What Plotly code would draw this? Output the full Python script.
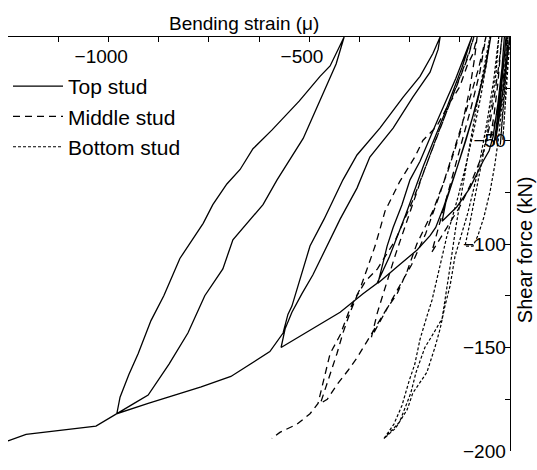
import plotly.graph_objects as go

# Bending strain (micro-strain) and shear force (kN) histories for each stud
top_strain = [0, -8, -16, -26, -36,
              -28, -20, -14, -10,
              -16, -24, -32, -40,
              -32, -24, -18, -14,
              -20, -30, -42, -52, -67, -100, -132, -169,
              -160, -140, -110, -80, -60, -48,
              -65, -95, -130, -165, -185, -199, -232, -281, -329,
              -316, -306, -291, -269, -249, -224, -180, -135, -95,
              -120, -165, -215, -260, -300, -331, -366, -423, -500, -570,
              -560, -543, -518, -491, -423, -381, -349, -291, -242, -199, -179, -174,
              -192, -224, -266, -324, -381, -416, -463, -498, -543, -553, -565, -598,
              -695, -769, -901, -979,
              -971, -949, -926, -894, -862, -822, -764, -740, -705, -672, -640, -593, -525, -473, -448, -413,
              -433, -473, -515, -580, -615, -690, -715, -760, -802, -849, -901, -936, -979,
              -1031, -1205, -1248, -1290]
top_force = [0, -12, -25, -38, -50,
             -38, -22, -8, 0,
             -14, -28, -40, -52,
             -40, -25, -10, 0,
             -15, -32, -48, -55, -60, -73, -82, -89,
             -80, -68, -50, -30, -14, 0,
             -18, -40, -62, -82, -92, -96, -103, -111, -119,
             -109, -101, -92, -81, -69, -60, -40, -20, 0,
             -15, -38, -62, -86, -106, -119, -124, -133, -142, -150,
             -141, -133, -124, -115, -88, -73, -58, -44, -29, -17, -6, 0,
             -8, -19, -29, -44, -57, -69, -88, -101, -130, -134, -143, -152,
             -164, -169, -177, -182,
             -174, -163, -153, -137, -125, -107, -90, -81, -71, -64, -54, -45, -31, -19, -14, 0,
             -13, -31, -49, -69, -81, -98, -112, -125, -143, -158, -173, -177, -182,
             -188, -192, -195, -196]

mid_strain = [0, -10, -22, -36, -50,
              -40, -30, -24, -20,
              -28, -40, -52, -65, -80, -100, -125, -150, -175, -195,
              -178, -155, -125, -98, -75, -60,
              -78, -105, -140, -175, -210, -245, -280, -315, -345,
              -330, -310, -285, -255, -220, -180, -140, -105, -90,
              -110, -150, -195, -240, -285, -330, -360, -381, -398, -416, -431, -448, -465, -472,
              -455, -431, -403, -381, -356, -331, -306, -281, -256, -232, -207, -192, -155, -122, -100, -88, -82,
              -92, -107, -125, -154, -182, -217, -237, -275, -311, -324, -336, -354, -374, -398, -423, -448,
              -468, -478, -498, -530, -573, -593]
mid_force = [0, -12, -26, -40, -50,
             -38, -22, -8, 0,
             -14, -30, -44, -55, -62, -72, -82, -90, -98, -104,
             -92, -76, -55, -35, -17, 0,
             -15, -33, -55, -76, -95, -110, -122, -134, -145,
             -133, -120, -105, -88, -68, -47, -27, -10, 0,
             -12, -32, -55, -78, -98, -112, -118, -125, -133, -143, -153, -163, -172, -177,
             -175, -168, -161, -155, -147, -139, -131, -124, -113, -100, -90, -84, -65, -45, -25, -10, 0,
             -8, -14, -24, -33, -43, -50, -58, -70, -84, -93, -101, -111, -122, -131, -144, -153,
             -169, -177, -182, -187, -191, -194]

bot_strain = [0, -4, -8, -13, -18,
              -13, -9, -6, -5,
              -9, -14, -19, -24,
              -18, -13, -10, -8,
              -13, -20, -28, -38, -50, -65, -80, -92, -112,
              -100, -85, -65, -48, -35, -28,
              -40, -58, -80, -105, -125, -137, -149, -162, -174, -187,
              -207, -242, -256, -285, -314,
              -300, -289, -269, -251, -237, -224, -207, -194, -182, -169, -157, -142, -129, -110, -90, -72, -58, -50,
              -62, -80, -100, -118, -135, -150, -160, -169, -190, -212, -234, -247, -275, -314]
bot_force = [0, -12, -25, -38, -50,
             -36, -20, -8, 0,
             -14, -28, -42, -52,
             -38, -22, -8, 0,
             -15, -32, -48, -62, -75, -87, -96, -101, -101,
             -90, -75, -55, -35, -18, 0,
             -20, -42, -65, -85, -98, -106, -120, -130, -141, -150,
             -162, -172, -180, -189, -194,
             -190, -187, -178, -166, -158, -146, -135, -127, -117, -106, -96, -86, -77, -62, -45, -28, -12, 0,
             -12, -30, -52, -72, -92, -112, -125, -136, -143, -150, -162, -172, -186, -194]

x_tick_vals = [-1250, -1125, -1000, -875, -750, -625, -500, -375, -250, -125, 0]
x_tick_text = ["", "", "\u22121000\u2007\u2009", "", "", "", "\u2212500\u2007\u2009", "", "", "", ""]
y_tick_vals = [-200, -175, -150, -125, -100, -75, -50, -25, 0]
y_tick_text = ["\u2212200", "", "\u2212150", "", "\u2212100", "", "\u221250", "", ""]

FONT = "Liberation Sans, Arial, Helvetica, sans-serif"

fig = go.Figure()
fig.add_trace(go.Scatter(x=top_strain, y=top_force, mode="lines", name="Top stud",
                         line=dict(color="black", width=1.3)))
fig.add_trace(go.Scatter(x=mid_strain, y=mid_force, mode="lines", name="Middle stud",
                         line=dict(color="black", width=1.3, dash="7px,5px")))
fig.add_trace(go.Scatter(x=bot_strain, y=bot_force, mode="lines", name="Bottom stud",
                         line=dict(color="black", width=1.2, dash="3px,2px")))

fig.update_layout(
    width=537, height=470,
    margin=dict(l=8, r=27, t=37, b=12),
    plot_bgcolor="white", paper_bgcolor="white",
    font=dict(family=FONT, size=19, color="black"),
    legend=dict(x=0.0, y=0.93, xanchor="left", yanchor="top",
                bgcolor="rgba(0,0,0,0)", font=dict(size=21, color="black"),
                itemwidth=50),
    xaxis=dict(range=[-1250, 0], side="top", showline=True, linecolor="black",
               linewidth=1, ticks="inside", ticklen=5, tickcolor="black",
               tickvals=x_tick_vals, ticktext=x_tick_text,
               ticklabelposition="inside", ticklabelstandoff=9,
               ticklabeloverflow="allow",
               showgrid=False, zeroline=False,
               tickfont=dict(size=19, color="black")),
    yaxis=dict(range=[-200, 0], side="right", showline=True, linecolor="black",
               linewidth=1, ticks="inside", ticklen=5, tickcolor="black",
               tickvals=y_tick_vals, ticktext=y_tick_text,
               ticklabelposition="inside", ticklabeloverflow="allow",
               showgrid=False, zeroline=False,
               layer="below traces", tickfont=dict(size=19, color="black")),
    annotations=[
        dict(text="Bending strain (\u03bc)", xref="paper", yref="paper",
             x=0.47, y=1.0, yshift=14, xanchor="center", yanchor="middle",
             showarrow=False, font=dict(size=19, color="black")),
        dict(text="Shear force (kN)", xref="paper", yref="paper",
             x=1.0, xshift=15, y=0.485, xanchor="center", yanchor="middle",
             textangle=-90, showarrow=False, font=dict(size=20, color="black")),
    ],
)

fig.write_html("out.html")
